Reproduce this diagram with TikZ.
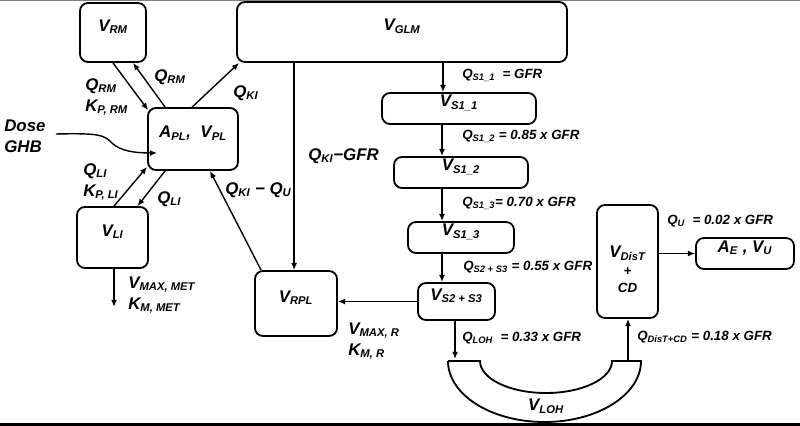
\documentclass[tikz,border=0pt]{standalone}
\usepackage{fontspec}
\setmainfont{Liberation Sans}
\usetikzlibrary{arrows.meta,calc,fit}

% font helpers
\newcommand{\bigf}{\fontsize{12}{15}\selectfont\bfseries\itshape}
\newcommand{\flowf}{\fontsize{9.5}{11}\selectfont\bfseries\itshape}
\newcommand{\sbs}[1]{\textsubscript{#1}}

\begin{document}
\begin{tikzpicture}[x=0.025cm,y=-0.025cm,
    box/.style={draw,line width=1.3pt,rounded corners=0.2cm,inner sep=0pt,font=\bigf},
    lbl/.style={inner sep=0pt,font=\bigf,align=left,anchor=west},
    flow/.style={inner sep=0pt,font=\flowf,anchor=west},
    link/.style={->,line width=1pt},
    >={Latex[length=1.8mm,width=1.5mm]}
]

%------------------------ frame ------------------------
\useasboundingbox (0,0) rectangle (800,426);
\draw[gray,line width=0.7pt] (0,0.5) -- (800,0.5);
\draw[line width=1.5pt] (0,424.5) -- (800,424.5);

%------------------------ compartments ------------------------
\node[box,fit={(80,3) (146,62)}] (rm) {V\sbs{RM}};
\node[box,fit={(148,108) (238,170)}] (pl) {A\sbs{PL},\ \ V\sbs{PL}};
\node[box,fit={(77,207) (148,268)}] (li) {V\sbs{LI}};
\node[box,fit={(237,2) (567,62)}] (glm) {V\sbs{GLM}};
\node[box,fit={(255,271) (337,336)}] (rpl) {V\sbs{RPL}};

% kidney chain
\node[box,fit={(382,93) (536,124)}] (s11) {V\sbs{S1\_1}};
\node[box,fit={(394,157) (528,188)}] (s12) {V\sbs{S1\_2}};
\node[box,fit={(408,222) (514,253)}] (s13) {V\sbs{S1\_3}};
\node[box,fit={(418,283) (495,320)}] (s23) {V\sbs{S2 + S3}};
\node[box,fit={(597,205) (658,318)}] (dist) {};
\node[font=\bigf,align=center,inner sep=0pt] (distlbl) at ($(dist.center)+(0,8)$)
  {V\sbs{DisT}\\[-2pt]{\flowf +}\\[-3pt]{\flowf CD}};
\node[box,fit={(696,238) (794,269)}] (ae) {A\sbs{E} , V\sbs{U}};

% loop of Henle
\draw[line width=1.3pt] (448,361) -- (480,361)
  arc[start angle=180,end angle=0,x radius=66,y radius=32] -- (641,361)
  arc[start angle=0,end angle=180,x radius=96.5,y radius=61] -- cycle;
\node[font=\bigf,inner sep=0pt] (loh) at (546,406) {V\sbs{LOH}};
\coordinate (lohin) at (455,359);
\coordinate (lohout) at (628,360);
\coordinate (spine) at (443,0);

%------------------------ flows ------------------------
\draw[link] (rm.south) -- ($(pl.north west)+(1,3)$);
\draw[link] ($(pl.north west)+(18,0)$) -- ($(rm.south)+(20,0)$);
\draw[link] ($(pl.north west)+(45,0)$) -- ($(glm.south west)+(3,0)$);
\draw[link] ($(li.north)+(1.5,0)$) -- ($(pl.south west)+(0,-4)$);
\draw[link] ($(pl.south west)+(18,0)$) -- ($(li.north)+(25,0)$);
\coordinate (met) at (114,307);
\draw[link] (li.south -| met) -- (met);
\draw[link] ($(rpl.north west)+(7,0)$) -- ($(pl.south)+(17,0)$);
\draw[link] ($(glm.south west)+(58,0)$) -- ($(rpl.north west)+(40,0)$);

\draw[link] (glm.south -| spine) -- (s11.north -| spine);
\draw[link] ($(s11.south -| spine)+(-1,0)$) -- ($(s12.north -| spine)+(-1,0)$);
\draw[link] ($(s12.south -| spine)+(-1,0)$) -- ($(s13.north -| spine)+(-1,0)$);
\draw[link] ($(s13.south -| spine)+(-1,0)$) -- ($(s23.north -| spine)+(-1,0)$);
\draw[link] (s23.west) -- (rpl.east |- s23.west);
\draw[link] (s23.south -| lohin) -- (lohin);
\draw[link] (lohout) -- (dist.south -| lohout);
\draw[link] (dist.east |- ae.west) -- (ae.west);

% dose input
\node[lbl] (dose) at (4,136) {Dose\\GHB};
\draw[link] ($(dose.east)+(10,-2)$) .. controls (100,133) and (104,135) .. (112,143)
  .. controls (120,151) and (135,153) .. ($(pl.west)+(10,14)$);

%------------------------ labels ------------------------
\node[lbl] (qrma) at (85,97) {Q\sbs{RM}\\K\sbs{P, RM}};
\node[lbl] (qrmb) at (154,77) {Q\sbs{RM}};
\node[lbl] (qki) at (233,93) {Q\sbs{KI}};
\node[lbl] (qlia) at (83,182) {Q\sbs{LI}\\K\sbs{P, LI}};
\node[lbl] (qlib) at (157,199) {Q\sbs{LI}};
\node[lbl] (qkiu) at (225,190) {Q\sbs{KI} − Q\sbs{U}};
\node[lbl] (qkigfr) at (308,156) {Q\sbs{KI}−GFR};
\node[lbl] (vmet) at (128,295) {V\sbs{MAX, MET}\\K\sbs{M, MET}};
\node[lbl] (vr) at (348,341) {V\sbs{MAX, R}\\K\sbs{M, R}};

\node[flow] (qs11) at (462,75) {Q\sbs{S1\_1} \ = GFR};
\node[flow] (qs12) at (462,136) {Q\sbs{S1\_2} = 0.85 x GFR};
\node[flow] (qs13) at (462,203) {Q\sbs{S1\_3}= 0.70 x GFR};
\node[flow] (qs23) at (463,267) {Q\sbs{S2 + S3} = 0.55 x GFR};
\node[flow] (qloh) at (462,338) {Q\sbs{LOH} \ = 0.33 x GFR};
\node[flow] (qdist) at (637,337) {Q\sbs{DisT+CD} = 0.18 x GFR};
\node[flow] (qu) at (667,221) {Q\sbs{U} \ = 0.02 x GFR};

\end{tikzpicture}
\end{document}
